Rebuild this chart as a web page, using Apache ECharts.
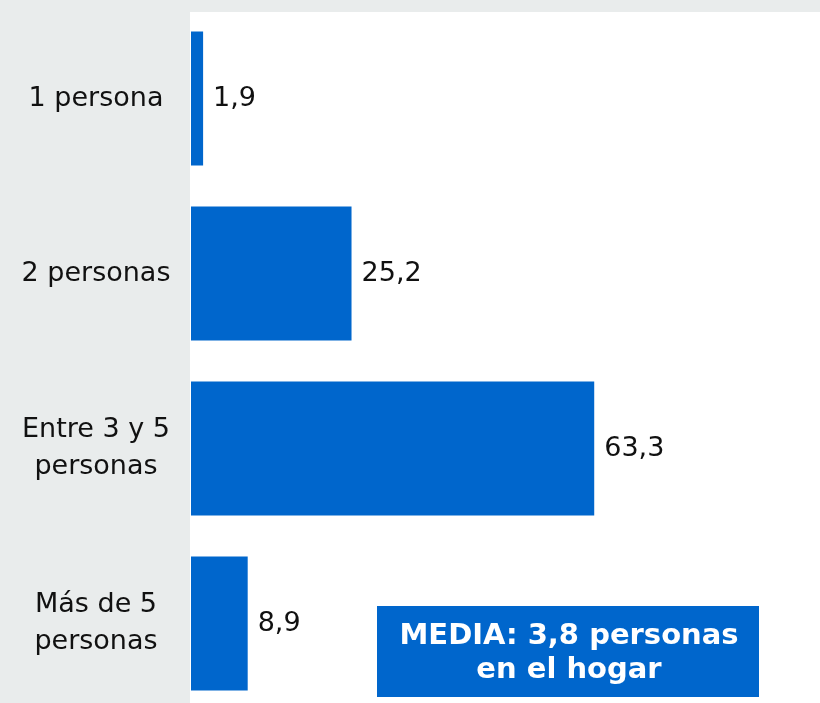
<!DOCTYPE html>
<html>
<head>
<meta charset="utf-8">
<script src="https://cdn.jsdelivr.net/npm/echarts@6/dist/echarts.min.js"></script>
<style>
  html, body { margin: 0; padding: 0; background: #fff; }
  #main { width: 820px; height: 703px; }
</style>
</head>
<body>
<div id="main"></div>
<script>
// datos
var categorias = ['1 persona', '2 personas', 'Entre 3 y 5\npersonas', 'Más de 5\npersonas'];
var valores = [1.9, 25.2, 63.3, 8.9];
var textoMedia = 'MEDIA: 3,8 personas\nen el hogar';

var chart = echarts.init(document.getElementById('main'));

var option = {
    backgroundColor: '#ffffff',
    animation: false,
    // fondo gris a la izquierda y arriba
    graphic: [
        { type: 'rect', x: 0, y: 0, z: -10, shape: { width: 190, height: 703 }, style: { fill: '#e9ecec' } },
        { type: 'rect', x: 0, y: 0, z: -10, shape: { width: 820, height: 12 }, style: { fill: '#e9ecec' } },
        // recuadro de la media
        { type: 'rect', x: 377, y: 606, z: 10, shape: { width: 382, height: 91 }, style: { fill: '#0066cc' } },
        {
            type: 'text',
            x: 569,
            y: 653,
            z: 11,
            style: {
                text: textoMedia,
                fill: '#ffffff',
                font: 'bold 29px "DejaVu Sans", Verdana, sans-serif',
                align: 'center',
                verticalAlign: 'middle',
                lineHeight: 34
            }
        }
    ],
    grid: { left: 191, top: 11, width: 637, height: 700, outerBoundsMode: 'none' },
    xAxis: {
        type: 'value',
        min: 0,
        max: 100,
        show: false
    },
    yAxis: {
        type: 'category',
        inverse: true,
        data: categorias,
        axisLine: { show: false },
        axisTick: { show: false },
        axisLabel: {
            margin: 95,
            align: 'center',
            color: '#111111',
            fontSize: 27,
            lineHeight: 37,
            fontFamily: '"DejaVu Sans", Verdana, sans-serif'
        }
    },
    series: [{
        type: 'bar',
        data: valores,
        barWidth: 134,
        itemStyle: { color: '#0066cc' },
        label: {
            show: true,
            position: 'right',
            distance: 10,
            color: '#111111',
            fontSize: 27,
            fontFamily: '"DejaVu Sans", Verdana, sans-serif',
            formatter: function (p) { return String(p.value).replace('.', ','); }
        }
    }]
};

chart.setOption(option);
</script>
</body>
</html>
